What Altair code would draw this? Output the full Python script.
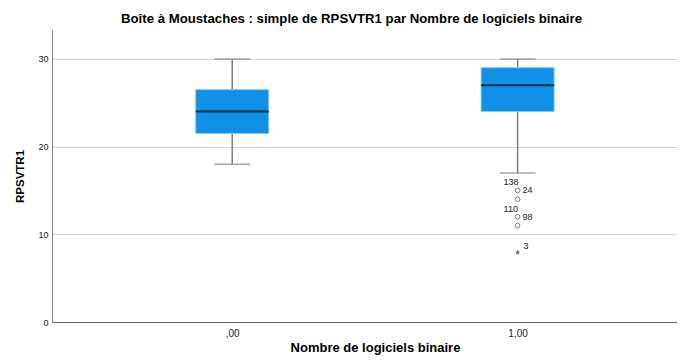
import altair as alt
import pandas as pd

# ---- data ----
groups = [0, 1]
group_labels = [",00", "1,00"]
whisker_low = [18, 17]
q1 = [21.5, 24]
median = [24, 27]
q3 = [26.5, 29]
whisker_high = [30, 30]

outlier_group = [1, 1, 1, 1]
outlier_value = [15, 14, 12, 11]

extreme_group = [1]
extreme_value = [8]
extreme_label = ["3"]

label_right_text = ["24", "98"]
label_right_value = [15, 12]
label_left_text = ["138", "110"]
label_left_value = [15, 12]

boxes = pd.DataFrame({
    "g": groups, "lo": whisker_low, "q1": q1, "med": median,
    "q3": q3, "hi": whisker_high,
})
outs = pd.DataFrame({"g": outlier_group, "v": outlier_value})
ext = pd.DataFrame({"g": extreme_group, "v": extreme_value, "t": extreme_label})
lab_r = pd.DataFrame({"g": [1] * len(label_right_text), "v": label_right_value, "t": label_right_text})
lab_l = pd.DataFrame({"g": [1] * len(label_left_text), "v": label_left_value, "t": label_left_text})

FONT = "Liberation Sans"
BLUE = "#1190e8"
GRAY = "#7f7f7f"

xscale = alt.Scale(domain=[-0.614, 1.541], nice=False, zero=False)
yscale = alt.Scale(domain=[0, 33.3], nice=False)

xaxis = alt.Axis(
    values=[0, 1],
    labelExpr="datum.value == 0 ? ',00' : '1,00'",
    title="Nombre de logiciels binaire",
    grid=False, ticks=False, labelPadding=6, labelFontSize=10,
    labelColor="#222222", titleFontSize=13, titleFontWeight="bold",
    titlePadding=3, titleX=323, domainColor="#666666", labelFont=FONT, titleFont=FONT,
    titleColor="#000000",
)
yaxis = alt.Axis(
    values=[0, 10, 20, 30], title="RPSVTR1", grid=True, gridColor="#d4d4d4",
    ticks=False, labelPadding=4, labelFontSize=9, labelColor="#222222",
    titleFontSize=11.5, titleFontWeight="bold", titlePadding=12,
    domainColor="#888888", labelFont=FONT, titleFont=FONT, titleColor="#000000",
)

base = alt.Chart(boxes)

whisk = base.mark_rule(color=GRAY, strokeWidth=1.5).encode(
    x=alt.X("g:Q", scale=xscale, axis=xaxis),
    y=alt.Y("lo:Q", scale=yscale, axis=yaxis),
    y2="hi:Q",
)
caps_lo = base.mark_tick(orient="horizontal", size=36, thickness=1.5, color=GRAY).encode(
    x=alt.X("g:Q", scale=xscale), y=alt.Y("lo:Q", scale=yscale))
caps_hi = base.mark_tick(orient="horizontal", size=36, thickness=1.5, color=GRAY).encode(
    x=alt.X("g:Q", scale=xscale), y=alt.Y("hi:Q", scale=yscale))
box = base.mark_bar(size=73, orient="vertical", color=BLUE, stroke="#8cc8f4",
                    strokeWidth=1).encode(
    x=alt.X("g:Q", scale=xscale), y=alt.Y("q1:Q", scale=yscale), y2="q3:Q")
med = base.mark_tick(orient="horizontal", size=73, thickness=2, color="#000000").encode(
    x=alt.X("g:Q", scale=xscale), y=alt.Y("med:Q", scale=yscale))

out_pts = alt.Chart(outs).mark_point(shape="circle", size=22, filled=False,
                                     color="#333333", strokeWidth=0.9).encode(
    x=alt.X("g:Q", scale=xscale), y=alt.Y("v:Q", scale=yscale))
ext_pts = alt.Chart(ext).mark_text(text="*", fontSize=12, font=FONT, color="#333333",
                                   dy=3).encode(
    x=alt.X("g:Q", scale=xscale), y=alt.Y("v:Q", scale=yscale))
ext_lab = alt.Chart(ext).mark_text(align="left", baseline="middle", dx=6, dy=-6,
                                   fontSize=9, font=FONT, color="#222222").encode(
    x=alt.X("g:Q", scale=xscale), y=alt.Y("v:Q", scale=yscale), text="t:N")

txt_r = alt.Chart(lab_r).mark_text(align="left", baseline="middle", dx=5, dy=0,
                                   fontSize=9, font=FONT, color="#222222").encode(
    x=alt.X("g:Q", scale=xscale), y=alt.Y("v:Q", scale=yscale), text="t:N")
txt_l = alt.Chart(lab_l).mark_text(align="left", baseline="middle", dx=-14, dy=-8,
                                   fontSize=9, font=FONT, color="#222222").encode(
    x=alt.X("g:Q", scale=xscale), y=alt.Y("v:Q", scale=yscale), text="t:N")

chart = alt.layer(whisk, caps_lo, caps_hi, box, med, out_pts, ext_pts, ext_lab,
                  txt_r, txt_l).properties(
    width=625, height=292,
    title=alt.TitleParams(
        "Boîte à Moustaches : simple de RPSVTR1 par Nombre de logiciels binaire",
        anchor="middle", dx=-13, font=FONT, fontSize=13.2, fontWeight="bold",
        color="#000000", offset=4,
    ),
    autosize=alt.AutoSizeParams(type="none"),
    padding={"left": 44, "top": 22, "right": 0, "bottom": 33},
).configure_view(stroke=None).configure_axis(domainWidth=1)

chart.save("out.html", embed_options={"renderer": "svg", "actions": False})
